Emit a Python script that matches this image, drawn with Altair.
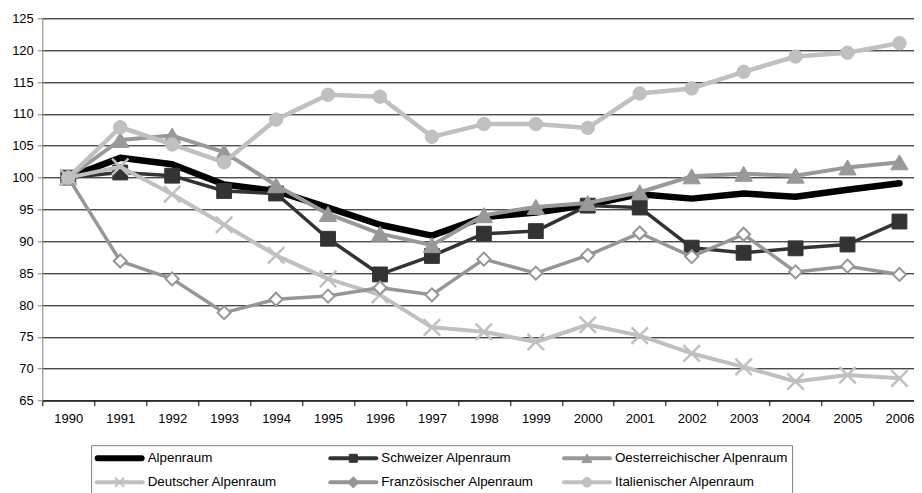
import altair as alt
import pandas as pd

FONT = "Liberation Sans"

years = list(range(1990, 2007))
series = [
    "Alpenraum",
    "Schweizer Alpenraum",
    "Oesterreichischer Alpenraum",
    "Deutscher Alpenraum",
    "Französischer Alpenraum",
    "Italienischer Alpenraum",
]

alpenraum = [100, 103.1, 102.1, 98.9, 97.9, 95.3, 92.6, 90.9, 93.8, 94.5, 95.7, 97.4, 96.7, 97.5, 97.0, 98.1, 99.1]
schweiz = [100, 100.8, 100.3, 97.9, 97.5, 90.4, 84.8, 87.7, 91.2, 91.6, 95.6, 95.3, 89.0, 88.2, 88.9, 89.5, 93.1]
oesterreich = [100, 105.9, 106.6, 104.0, 98.8, 94.3, 91.2, 89.4, 94.1, 95.4, 96.0, 97.7, 100.2, 100.6, 100.3, 101.6, 102.4]
deutschland = [100, 101.7, 97.4, 92.6, 87.8, 84.1, 81.6, 76.5, 75.8, 74.2, 76.9, 75.2, 72.4, 70.3, 68.0, 69.0, 68.5]
frankreich = [100, 86.9, 84.1, 78.8, 80.9, 81.4, 82.7, 81.6, 87.2, 85.0, 87.8, 91.3, 87.6, 91.1, 85.2, 86.1, 84.8]
italien = [100, 107.9, 105.2, 102.4, 109.1, 113.0, 112.7, 106.4, 108.4, 108.4, 107.8, 113.2, 114.0, 116.6, 119.0, 119.6, 121.1]

values = [alpenraum, schweiz, oesterreich, deutschland, frankreich, italien]
y_ticks = list(range(65, 126, 5))

# layout (pixels)
STEP = 51.95          # one year on the x axis
PAD_L, PAD_T = 34.3, 10.3
W = 871.7
H = 382.3
PAD_B = 110
X_MAX = 1989.5 + W / STEP

X_PATH = "M-1,-1L1,1M-1,1L1,-1"
LINE_PATH = "M-1,0L1,0"

styles = {
    "Alpenraum": dict(color="#000000", lw=6.5, shape=None, llw=6),
    "Schweizer Alpenraum": dict(color="#333333", lw=3.5, shape="square", size=220, fill="#333333",
                                stroke="#333333", sw=1, filled=True, lsize=64, lfill="#333333", llw=4),
    "Oesterreichischer Alpenraum": dict(color="#999999", lw=4, shape="triangle-up", size=300, fill="#999999",
                                        stroke="#999999", sw=1, filled=True, lsize=100, lfill="#999999", llw=4),
    "Deutscher Alpenraum": dict(color="#C0C0C0", lw=4, shape=X_PATH, size=270, fill="transparent",
                                stroke="#C0C0C0", sw=2.5, filled=False, lsize=81, lfill="transparent", llw=4),
    "Französischer Alpenraum": dict(color="#969696", lw=3.5, shape="diamond", size=170, fill="#ffffff",
                                    stroke="#969696", sw=2, filled=True, lsize=90, lfill="#969696", llw=4),
    "Italienischer Alpenraum": dict(color="#C0C0C0", lw=4.5, shape="circle", size=180, fill="#C0C0C0",
                                    stroke="#C0C0C0", sw=1, filled=True, lsize=90, lfill="#C0C0C0", llw=4),
}

rows = []
for name, vals in zip(series, values):
    for yr, v in zip(years, vals):
        rows.append({"Jahr": yr, "Serie": name, "Index": v})
df = pd.DataFrame(rows)

leg = pd.DataFrame({
    "Serie": series,
    "col": [i % 3 for i in range(len(series))],
    "row": [i // 3 for i in range(len(series))],
})

x_enc = alt.X(
    "Jahr:Q",
    scale=alt.Scale(domain=[1989.5, X_MAX], nice=False, zero=False),
    axis=alt.Axis(title=None, values=years, format="d", labelAngle=0, tickOffset=-STEP / 2,
                  labelOffset=STEP / 2, labelFlush=False, labelOverlap=False, tickSize=5,
                  tickColor="#000000", domainColor="#000000", labelFontSize=13, labelFont=FONT,
                  labelColor="#000000", labelPadding=7, grid=False),
)
y_enc = alt.Y(
    "Index:Q",
    scale=alt.Scale(domain=[65, 125], nice=False, zero=False),
    axis=alt.Axis(title=None, values=y_ticks, grid=True, gridColor="#000000", gridWidth=1,
                  domainColor="#808080", tickColor="#808080", tickSize=5, labelPadding=4,
                  labelFontSize=13, labelFont=FONT, labelColor="#000000"),
)

base = alt.Chart(df)
layers = []
for name in series:
    st = styles[name]
    sub = base.transform_filter(alt.datum.Serie == name)
    layers.append(
        sub.mark_line(color=st["color"], strokeWidth=st["lw"], strokeJoin="round", strokeCap="round")
        .encode(x=x_enc, y=y_enc)
    )
    if st["shape"]:
        layers.append(
            sub.mark_point(shape=st["shape"], size=st["size"], filled=st["filled"], fill=st["fill"],
                           stroke=st["stroke"], strokeWidth=st["sw"], opacity=1)
            .encode(x=x_enc, y=y_enc)
        )
main = alt.layer(*layers)

# legend (laid out in legend units: one unit per column, one per row)
lscale_x = alt.Scale(domain=[0, 3], range=[49.3, 750.3])
lscale_y = alt.Scale(domain=[0, 1], range=[440, 464])
lx = alt.X("cx:Q", scale=lscale_x, axis=None)
ly = alt.Y("row:Q", scale=lscale_y, axis=None)

box = alt.Chart(alt.Data(values=[{"b": 0}])).mark_rect(
    fill="transparent", stroke="#808080", strokeWidth=1
).encode(
    x=alt.X(datum=0, type="quantitative", scale=lscale_x, axis=None),
    x2=alt.X2(datum=3),
    y=alt.Y(datum=-0.525, type="quantitative", scale=lscale_y, axis=None),
    y2=alt.Y2(datum=1.75),
)
leg_layers = [box]
lbase = alt.Chart(leg).transform_calculate(cx="datum.col + 0.12")
for name in series:
    st = styles[name]
    sub = lbase.transform_filter(alt.datum.Serie == name)
    leg_layers.append(
        sub.mark_point(shape=LINE_PATH, size=(50 - st["llw"]) ** 2, filled=False, stroke=st["color"],
                       strokeWidth=st["llw"], strokeCap="round", opacity=1)
        .encode(x=lx, y=ly)
    )
    if st["shape"]:
        leg_layers.append(
            sub.mark_point(shape=st["shape"], size=st["lsize"], filled=st["filled"], fill=st["lfill"],
                           stroke=st["stroke"], strokeWidth=min(st["sw"], 2), opacity=1)
            .encode(x=lx, y=ly)
        )
    leg_layers.append(
        sub.mark_text(align="left", baseline="middle", dx=28, font=FONT, fontSize=13.4, color="#000000")
        .encode(x=lx, y=ly, text="Serie:N")
    )
legend = alt.layer(*leg_layers)

chart = (
    alt.layer(main, legend)
    .resolve_scale(x="independent", y="independent")
    .properties(width=W, height=H,
                autosize=alt.AutoSizeParams(type="none"),
                padding={"left": PAD_L, "top": PAD_T, "right": 0, "bottom": PAD_B},
                background="#ffffff")
    .configure(font=FONT)
    .configure_view(strokeWidth=0)
)

chart.save("out.html", embed_options={"renderer": "svg", "actions": False})
